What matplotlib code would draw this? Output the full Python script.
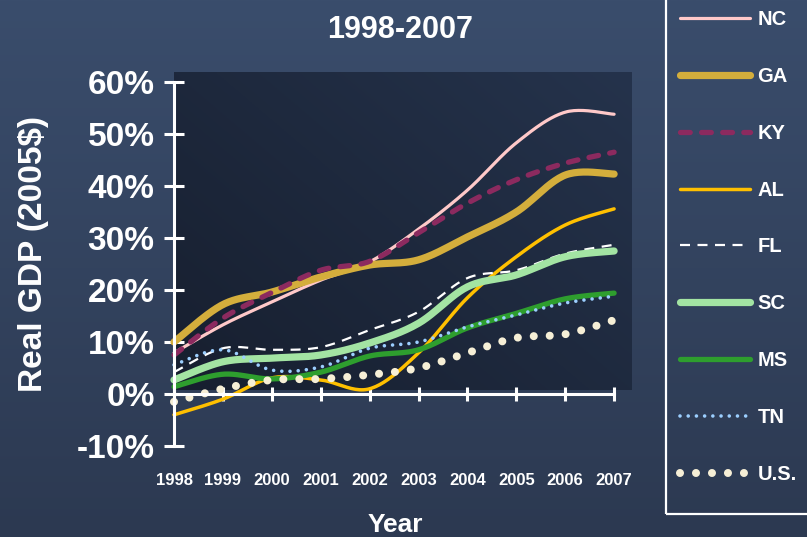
import numpy as np
import matplotlib
matplotlib.use("Agg")
import matplotlib.pyplot as plt
from matplotlib.patches import Rectangle

plt.rcParams['font.family'] = ['Liberation Sans', 'DejaVu Sans']
plt.rcParams['font.weight'] = 'bold'
plt.rcParams['lines.scale_dashes'] = False

# Cumulative real GDP growth since 1998 (percent)
years = [1998, 1999, 2000, 2001, 2002, 2003, 2004, 2005, 2006, 2007]
nc = [7.9, 13.3, 17.7, 21.9, 25.4, 31.7, 39.2, 48.3, 54.2, 53.8]
ga = [10.0, 17.2, 19.6, 22.5, 24.8, 25.8, 30.2, 35.0, 42.1, 42.3]
ky = [7.5, 14.6, 19.5, 23.8, 25.5, 31.0, 36.7, 41.2, 44.4, 46.5]
al = [-4.0, -1.0, 3.1, 2.7, 1.0, 7.9, 18.5, 26.4, 32.5, 35.6]
fl = [4.2, 8.8, 8.5, 9.0, 12.3, 15.8, 22.3, 23.8, 27.0, 28.7]
sc = [2.7, 6.2, 6.9, 7.5, 9.8, 13.6, 20.6, 22.9, 26.4, 27.5]
ms = [1.4, 3.8, 2.9, 4.2, 7.3, 8.5, 12.7, 15.5, 18.3, 19.4]
tn = [5.6, 8.5, 4.6, 5.2, 8.8, 10.0, 12.9, 15.2, 17.5, 18.8]
us = [-1.5, 1.0, 2.7, 2.9, 3.7, 5.0, 7.9, 10.8, 11.5, 14.2]

y_ticks = [-10, 0, 10, 20, 30, 40, 50, 60]
y_tick_labels = [f"{v}%" for v in y_ticks]
title = "1998-2007"
x_title = "Year"
y_title = "Real GDP (2005$)"


def smooth(xs, ys, n=24):
    """Catmull-Rom smoothed path through the given points."""
    p = np.column_stack([xs, ys]).astype(float)
    p = np.vstack([p[0], p, p[-1]])
    out = []
    t = np.linspace(0, 1, n, endpoint=False)[:, None]
    for i in range(1, len(p) - 2):
        p0, p1, p2, p3 = p[i - 1], p[i], p[i + 1], p[i + 2]
        seg = 0.5 * ((2 * p1) + (-p0 + p2) * t + (2 * p0 - 5 * p1 + 4 * p2 - p3) * t ** 2
                     + (-p0 + 3 * p1 - 3 * p2 + p3) * t ** 3)
        out.append(seg)
    out.append(p[-2][None, :])
    out = np.vstack(out)
    return out[:, 0], out[:, 1]


W, H = 807, 537
fig = plt.figure(figsize=(W / 100, H / 100), dpi=100)

# slate background, lighter at the top
bg = fig.add_axes([0, 0, 1, 1], zorder=-10)
bg.axis('off')
top = np.array([58, 77, 108]) / 255
bot = np.array([44, 57, 81]) / 255
g = np.linspace(0, 1, 256)[:, None, None]
bg.imshow(top * (1 - g) + bot * g, aspect='auto', extent=[0, 1, 0, 1])
bg.set_xlim(0, 1)
bg.set_ylim(0, 1)

ppy = 48.9   # pixels per year
ppp = 5.2    # pixels per percentage point
ax = fig.add_axes([160 / W, (H - 455) / H, 480 / W, 385 / H])
ax.set_xlim(1998 - 14 / ppy, 1998 + 466 / ppy)
ax.set_ylim((394 - 455) / ppp, (394 - 70) / ppp)
ax.patch.set_alpha(0)

# dark plot area panel with a diagonal shade
gx = np.linspace(0, 1, 200)[None, :]
gy = np.linspace(0, 1, 200)[:, None]
mix = np.clip(0.55 * gx + 0.45 * (1 - gy), 0, 1)[:, :, None]
dark = np.array([23, 31, 47]) / 255
light = np.array([37, 51, 76]) / 255
panel = dark * (1 - mix) + light * mix
ax.imshow(panel, aspect='auto', origin='upper', zorder=0,
          extent=[1998, 1998 + 458 / ppy, (394 - 390) / ppp, (394 - 73) / ppp])

series = [
    ("NC", nc, dict(color='#ffc9c9', lw=2.3)),
    ("GA", ga, dict(color='#d4ae3c', lw=5.2)),
    ("KY", ky, dict(color='#8c2a5f', lw=3.8, dashes=(7.0, 8.2), dash_capstyle='round')),
    ("AL", al, dict(color='#ffc000', lw=2.5)),
    ("FL", fl, dict(color='#ffffff', lw=1.6, dashes=(7.2, 5.4))),
    ("SC", sc, dict(color='#a3e4a3', lw=5.2)),
    ("MS", ms, dict(color='#2e9e2e', lw=3.8)),
    ("TN", tn, dict(color='#9ccfff', lw=2.6, dashes=(0.01, 5.9), dash_capstyle='round')),
    ("U.S.", us, dict(color='#f6efd6', lw=5.8, dashes=(0.01, 11.5), dash_capstyle='round')),
]

handles = []
for i, (name, vals, style) in enumerate(series):
    sx, sy = smooth(years, vals)
    ln, = ax.plot(sx, sy, solid_capstyle='round', zorder=3 + i, label=name, **style)
    handles.append(ln)

# axes through the origin
for s in ('top', 'right'):
    ax.spines[s].set_visible(False)
ax.spines['left'].set_position(('data', 1998))
ax.spines['left'].set_bounds(-10, 60)
ax.spines['bottom'].set_position(('data', 0))
ax.spines['bottom'].set_bounds(1998, 2007)
for s in ('left', 'bottom'):
    ax.spines[s].set_color('white')
    ax.spines[s].set_linewidth(2.2)
    ax.spines[s].set_zorder(20)

ax.set_yticks(y_ticks)
ax.set_yticklabels(y_tick_labels)
ax.set_xticks(years)
ax.set_xticklabels([str(y) for y in years])
ax.tick_params(axis='y', direction='inout', length=14, width=2.2, colors='white',
               labelsize=24, pad=7)
ax.tick_params(axis='x', direction='inout', length=10, width=2.2, colors='white',
               labelsize=12, pad=52)

fig.text(400 / W, 1 - 30 / H, title, ha='center', va='center', color='white',
         fontsize=22, fontweight='bold')
fig.text(395 / W, 1 - 525 / H, x_title, ha='center', va='center', color='white',
         fontsize=19, fontweight='bold')
fig.text(34 / W, 1 - 254 / H, y_title, ha='center', va='center', color='white',
         fontsize=24, fontweight='bold', rotation=90)

# legend box running off the top and right edges
fig.patches.append(Rectangle((666 / W, (H - 514) / H), 200 / W, 1.2,
                             transform=fig.transFigure, fill=False,
                             edgecolor='white', lw=1.6, zorder=5))
leg = fig.legend(handles=handles, labels=[s[0] for s in series], loc='upper left',
                 bbox_to_anchor=(680 / W, 1 - 10 / H), frameon=False,
                 fontsize=14.5, handlelength=3.5, handletextpad=0.35,
                 labelspacing=1.88, borderpad=0, borderaxespad=0)
for t in leg.get_texts():
    t.set_color('white')
    t.set_fontweight('bold')

fig.savefig('out.png', dpi=100)
